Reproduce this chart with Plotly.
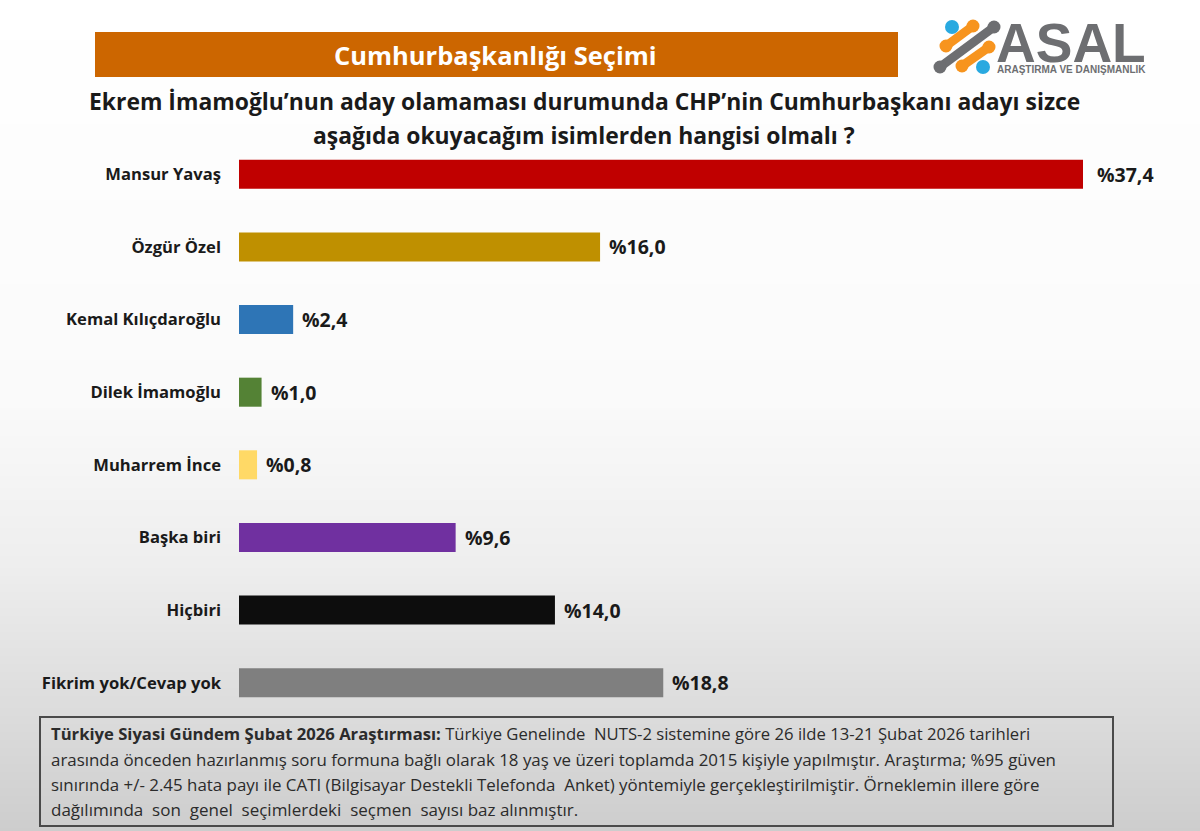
import plotly.graph_objects as go

W, H = 1200, 831

names = ["Mansur Yavaş", "Özgür Özel", "Kemal Kılıçdaroğlu", "Dilek İmamoğlu",
         "Muharrem İnce", "Başka biri", "Hiçbiri", "Fikrim yok/Cevap yok"]
values = [37.4, 16.0, 2.4, 1.0, 0.8, 9.6, 14.0, 18.8]
bar_colors = ["#C00000", "#BF9000", "#2E75B6", "#548235", "#FFD966", "#7030A0", "#0D0D0D", "#7F7F7F"]

header = "Cumhurbaşkanlığı Seçimi"
question = ["Ekrem İmamoğlu’nun aday olamaması durumunda CHP’nin Cumhurbaşkanı adayı sizce",
            "aşağıda okuyacağım isimlerden hangisi olmalı ?"]
note_lines = ["<b>Türkiye Siyasi Gündem Şubat 2026 Araştırması:</b> Türkiye Genelinde  NUTS-2 sistemine göre 26 ilde 13-21 Şubat 2026 tarihleri",
              "arasında önceden hazırlanmış soru formuna bağlı olarak 18 yaş ve üzeri toplamda 2015 kişiyle yapılmıştır. Araştırma; %95 güven",
              "sınırında +/- 2.45 hata payı ile CATI (Bilgisayar Destekli Telefonda  Anket) yöntemiyle gerçekleştirilmiştir. Örneklemin illere göre",
              "dağılımında  son  genel  seçimlerdeki  seçmen  sayısı baz alınmıştır."]

FONT = "Open Sans"
TEXT = "#1a1a1a"


def px(x):
    return x / W


def py(y):
    return 1 - y / H


def grey_at(y):
    # page background fades from white to light grey towards the bottom
    stops = [(0, 255), (400, 250), (560, 238), (700, 221), (831, 205)]
    for (y0, g0), (y1, g1) in zip(stops, stops[1:]):
        if y <= y1:
            return round(g0 + (g1 - g0) * (y - y0) / (y1 - y0))
    return stops[-1][1]


def rect(x0, y0, x1, y1, fill=None, line=None, lw=0, layer="above"):
    return dict(type="rect", xref="paper", yref="paper", x0=px(x0), x1=px(x1), y0=py(y0), y1=py(y1),
                fillcolor=fill or "rgba(0,0,0,0)", line=dict(color=line or "rgba(0,0,0,0)", width=lw), layer=layer)


def dot(cx, cy, r, color):
    return dict(type="circle", xref="paper", yref="paper", x0=px(cx - r), x1=px(cx + r),
                y0=py(cy + r), y1=py(cy - r), fillcolor=color, line=dict(width=0))


def stroke(x0, y0, x1, y1, w, r, color):
    # logo stroke: thin middle, fat round ends
    return [dict(type="line", xref="paper", yref="paper", x0=px(x0), x1=px(x1), y0=py(y0), y1=py(y1),
                 line=dict(color=color, width=w)),
            dot(x0, y0, r, color), dot(x1, y1, r, color)]


def label(x, y, text, size, color=TEXT, anchor="left", family=FONT):
    return dict(xref="paper", yref="paper", x=px(x), y=py(y), text=text, showarrow=False,
                xanchor=anchor, yanchor="middle", align=anchor, font=dict(family=family, size=size, color=color))


fig = go.Figure(go.Bar(x=values, y=names, orientation="h", marker=dict(color=bar_colors, line=dict(width=0)),
                       width=0.4, hoverinfo="skip"))

shapes = []
for y in range(0, H, 4):
    g = grey_at(y)
    shapes.append(rect(0, y, W, y + 4, fill=f"rgb({g},{g},{g})", layer="below"))

shapes.append(rect(95, 32, 898, 77, fill="#CC6600"))
shapes.append(rect(40, 717, 1113, 826, line="#4a4a4a", lw=2))

# logo
shapes += stroke(946, 46, 973, 26, 9, 6.5, "#F7941E")
shapes += stroke(962, 66, 989, 47, 9, 6.5, "#F7941E")
shapes += stroke(940, 67, 994, 27, 9, 6.5, "#6D6E71")
shapes.append(dot(952, 27, 7, "#29A9E0"))
shapes.append(dot(983, 67, 7, "#29A9E0"))

annotations = [label(495, 55, f"<b>{header}</b>", 25.5, color="#FFFFFF", anchor="center")]
annotations.append(label(584, 102, f"<b>{question[0]}</b>", 22.9, anchor="center"))
annotations.append(label(584, 136, f"<b>{question[1]}</b>", 22.9, anchor="center"))

for i, (name, v) in enumerate(zip(names, values)):
    # the top label sits a little further from its bar
    annotations.append(dict(x=v, y=name, xref="x", yref="y", text="<b>%" + f"{v:.1f}".replace(".", ",") + "</b>",
                            showarrow=False, xanchor="left", xshift=12 if i == 0 else 7,
                            font=dict(family=FONT, size=19.5, color=TEXT)))

for y, line, size in zip([733, 759, 784, 809], note_lines, [16.65, 16.9, 16.9, 17.0]):
    annotations.append(label(49, y, line, size, color="#2b2b2b"))

annotations.append(label(1071, 43, "<b>ASAL</b>", 55, color="#6D6E71", anchor="center", family="Liberation Sans"))
annotations.append(label(1071, 70, "<b>ARAŞTIRMA VE DANIŞMANLIK</b>", 10, color="#6D6E71", anchor="center", family="Liberation Sans"))

fig.update_layout(
    width=W, height=H, autosize=False,
    margin=dict(l=0, r=0, t=0, b=0),
    paper_bgcolor="white", plot_bgcolor="rgba(0,0,0,0)",
    showlegend=False,
    shapes=shapes, annotations=annotations,
    xaxis=dict(domain=[px(239), px(1083)], range=[0, 37.4], visible=False),
    yaxis=dict(domain=[py(719), py(138)], autorange="reversed", showgrid=False, zeroline=False, showline=False,
               ticks="", ticklabelstandoff=17, tickfont=dict(family=FONT, size=16.6, color=TEXT),
               tickmode="array", tickvals=names, ticktext=[f"<b>{n}</b>" for n in names]),
)

fig.write_html("out.html", post_script="document.body.style.margin='0';", config=dict(displayModeBar=False))
